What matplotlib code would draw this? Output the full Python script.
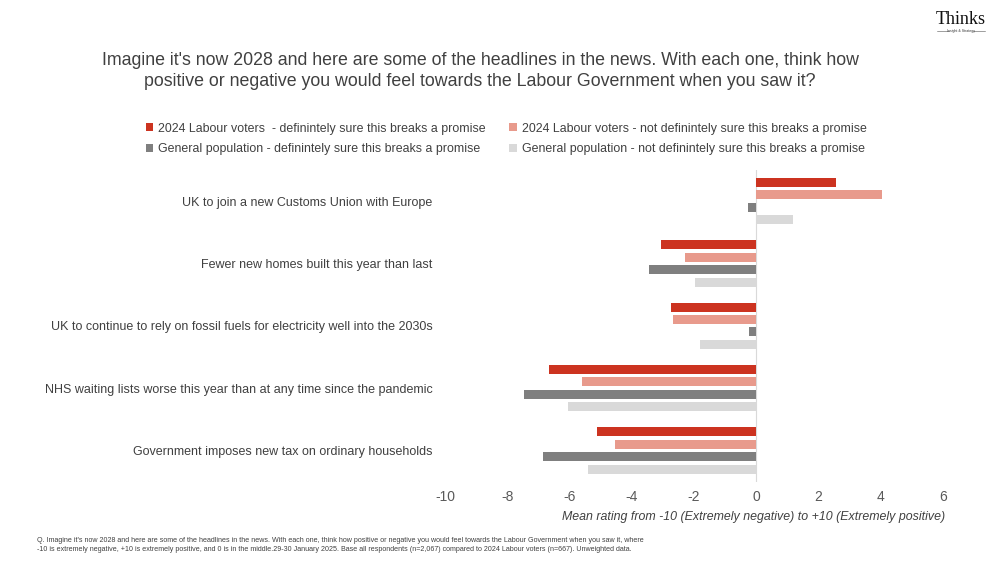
import matplotlib
matplotlib.use("Agg")
import matplotlib.pyplot as plt
import numpy as np

plt.rcParams['font.family'] = ['Liberation Sans', 'DejaVu Sans']

categories = [
    "UK to join a new Customs Union with Europe",
    "Fewer new homes built this year than last",
    "UK to continue to rely on fossil fuels for electricity well into the 2030s",
    "NHS waiting lists worse this year than at any time since the pandemic",
    "Government imposes new tax on ordinary households",
]
series_names = [
    "2024 Labour voters  - definintely sure this breaks a promise",
    "2024 Labour voters - not definintely sure this breaks a promise",
    "General population - definintely sure this breaks a promise",
    "General population - not definintely sure this breaks a promise",
]
labour_sure = [2.56, -3.06, -2.74, -6.66, -5.11]
labour_not_sure = [4.03, -2.30, -2.69, -5.59, -4.53]
genpop_sure = [-0.26, -3.46, -0.24, -7.46, -6.84]
genpop_not_sure = [1.17, -1.96, -1.82, -6.05, -5.40]
xticks = [-10, -8, -6, -4, -2, 0, 2, 4, 6]

colors = ["#CC3320", "#E89A8C", "#7F7F7F", "#D9D9D9"]
values = [labour_sure, labour_not_sure, genpop_sure, genpop_not_sure]

fig = plt.figure(figsize=(10, 5.62), dpi=100)
ax = fig.add_axes([0.445, 1 - 481.5 / 562, 0.498, (481.5 - 170) / 562])

y = np.arange(len(categories))
offsets = [-0.3, -0.1, 0.1, 0.3]
for vals, off, c, name in zip(values, offsets, colors, series_names):
    ax.barh(y + off, vals, height=0.145, color=c, label=name, zorder=2)

ax.set_xlim(-10, 6)
ax.set_ylim(4.5, -0.5)
ax.set_xticks(xticks)
ax.set_xticklabels([str(t) for t in xticks], fontsize=10, color="#595959")
ax.tick_params(axis='x', length=0, pad=6)
ax.set_yticks(y)
ax.set_yticklabels(categories, fontsize=9.0, color="#404040")
ax.tick_params(axis='y', length=0, pad=9)
for s in ax.spines.values():
    s.set_visible(False)
ax.axvline(0, color="#D9D9D9", lw=0.8, zorder=1)

fig.text(0.945, 1 - 517 / 562, "Mean rating from -10 (Extremely negative) to +10 (Extremely positive)",
         ha="right", va="center", fontsize=8.9, style="italic", color="#404040")

fig.text(0.48, 1 - 71 / 562,
         "Imagine it's now 2028 and here are some of the headlines in the news. With each one, think how\n"
         "positive or negative you would feel towards the Labour Government when you saw it?",
         ha="center", va="center", fontsize=12.8, color="#404040", linespacing=1.35)

handles, labels = ax.get_legend_handles_labels()
order = [0, 2, 1, 3]
fig.legend([handles[i] for i in order], [labels[i] for i in order],
           loc="center left", bbox_to_anchor=(0.137, 1 - 139 / 562), ncol=2, frameon=False,
           fontsize=8.95, handlelength=0.6, handleheight=0.6, handletextpad=0.4,
           columnspacing=1.9, labelspacing=0.7, labelcolor="#404040", borderpad=0.2)

fig.text(0.037, 1 - 545 / 562,
         "Q. Imagine it's now 2028 and here are some of the headlines in the news. With each one, think how positive or negative you would feel towards the Labour Government when you saw it, where\n"
         "-10 is extremely negative, +10 is extremely positive, and 0 is in the middle.29-30 January 2025. Base all respondents (n=2,067) compared to 2024 Labour voters (n=667). Unweighted data.",
         ha="left", va="center", fontsize=5.15, color="#404040", linespacing=1.3)

fig.text(0.961, 1 - 20 / 562, "Thinks", ha="center", va="center", fontsize=13,
         family=["Liberation Serif", "DejaVu Serif"], color="#111111")
fig.text(0.961, 1 - 31 / 562, "Insight & Strategy", ha="center", va="center", fontsize=2.5, color="#333333")
fig.add_artist(plt.Line2D([0.937, 0.949], [1 - 31 / 562] * 2, color="#555555", lw=0.4))
fig.add_artist(plt.Line2D([0.973, 0.985], [1 - 31 / 562] * 2, color="#555555", lw=0.4))

fig.savefig("out.png", dpi=100, facecolor="white")
